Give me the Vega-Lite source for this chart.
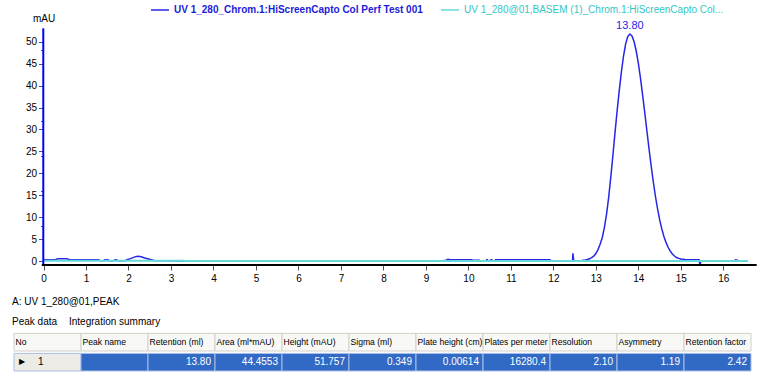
{
  "$schema": "https://vega.github.io/schema/vega-lite/v6.json",
  "width": 760,
  "height": 374,
  "padding": 0,
  "autosize": {"type": "none"},
  "background": "white",
  "config": {
    "view": {"stroke": null},
    "font": "Liberation Sans",
    "axis": {"labelOverlap": false, "labelFlush": false, "grid": false, "domain": false, "tickColor": "#555555", "labelColor": "#000000", "labelFontSize": 10}
  },
  "datasets": {
    "trace": [
      {"series": "UV 1_280_Chrom.1:HiScreenCapto Col Perf Test 001", "x": 0, "y": 0.3},
      {"series": "UV 1_280_Chrom.1:HiScreenCapto Col Perf Test 001", "x": 0.28, "y": 0.3},
      {"series": "UV 1_280_Chrom.1:HiScreenCapto Col Perf Test 001", "x": 0.33, "y": 0.5},
      {"series": "UV 1_280_Chrom.1:HiScreenCapto Col Perf Test 001", "x": 0.55, "y": 0.5},
      {"series": "UV 1_280_Chrom.1:HiScreenCapto Col Perf Test 001", "x": 0.62, "y": 0.3},
      {"series": "UV 1_280_Chrom.1:HiScreenCapto Col Perf Test 001", "x": 1.3, "y": 0.3},
      {"series": "UV 1_280_Chrom.1:HiScreenCapto Col Perf Test 001", "x": 1.33, "y": 0.05},
      {"series": "UV 1_280_Chrom.1:HiScreenCapto Col Perf Test 001", "x": 1.42, "y": 0.05},
      {"series": "UV 1_280_Chrom.1:HiScreenCapto Col Perf Test 001", "x": 1.44, "y": 0.3},
      {"series": "UV 1_280_Chrom.1:HiScreenCapto Col Perf Test 001", "x": 1.52, "y": 0.3},
      {"series": "UV 1_280_Chrom.1:HiScreenCapto Col Perf Test 001", "x": 1.54, "y": 0.05},
      {"series": "UV 1_280_Chrom.1:HiScreenCapto Col Perf Test 001", "x": 1.66, "y": 0.05},
      {"series": "UV 1_280_Chrom.1:HiScreenCapto Col Perf Test 001", "x": 1.68, "y": 0.3},
      {"series": "UV 1_280_Chrom.1:HiScreenCapto Col Perf Test 001", "x": 1.72, "y": 0.3},
      {"series": "UV 1_280_Chrom.1:HiScreenCapto Col Perf Test 001", "x": 1.74, "y": 0.05},
      {"series": "UV 1_280_Chrom.1:HiScreenCapto Col Perf Test 001", "x": 1.92, "y": 0.05},
      {"series": "UV 1_280_Chrom.1:HiScreenCapto Col Perf Test 001", "x": 1.96, "y": 0.3},
      {"series": "UV 1_280_Chrom.1:HiScreenCapto Col Perf Test 001", "x": 2.05, "y": 0.55},
      {"series": "UV 1_280_Chrom.1:HiScreenCapto Col Perf Test 001", "x": 2.15, "y": 0.95},
      {"series": "UV 1_280_Chrom.1:HiScreenCapto Col Perf Test 001", "x": 2.22, "y": 1.1},
      {"series": "UV 1_280_Chrom.1:HiScreenCapto Col Perf Test 001", "x": 2.3, "y": 0.95},
      {"series": "UV 1_280_Chrom.1:HiScreenCapto Col Perf Test 001", "x": 2.4, "y": 0.65},
      {"series": "UV 1_280_Chrom.1:HiScreenCapto Col Perf Test 001", "x": 2.52, "y": 0.35},
      {"series": "UV 1_280_Chrom.1:HiScreenCapto Col Perf Test 001", "x": 2.6, "y": 0.1},
      {"series": "UV 1_280_Chrom.1:HiScreenCapto Col Perf Test 001", "x": 3.3, "y": 0},
      {"series": "UV 1_280_Chrom.1:HiScreenCapto Col Perf Test 001", "x": 9.3, "y": 0},
      {"series": "UV 1_280_Chrom.1:HiScreenCapto Col Perf Test 001", "x": 9.45, "y": 0.1},
      {"series": "UV 1_280_Chrom.1:HiScreenCapto Col Perf Test 001", "x": 9.52, "y": 0.4},
      {"series": "UV 1_280_Chrom.1:HiScreenCapto Col Perf Test 001", "x": 9.57, "y": 0.3},
      {"series": "UV 1_280_Chrom.1:HiScreenCapto Col Perf Test 001", "x": 10.08, "y": 0.3},
      {"series": "UV 1_280_Chrom.1:HiScreenCapto Col Perf Test 001", "x": 10.1, "y": 0.15},
      {"series": "UV 1_280_Chrom.1:HiScreenCapto Col Perf Test 001", "x": 10.26, "y": 0.15},
      {"series": "UV 1_280_Chrom.1:HiScreenCapto Col Perf Test 001", "x": 10.28, "y": 0},
      {"series": "UV 1_280_Chrom.1:HiScreenCapto Col Perf Test 001", "x": 10.42, "y": 0},
      {"series": "UV 1_280_Chrom.1:HiScreenCapto Col Perf Test 001", "x": 10.43, "y": 0.3},
      {"series": "UV 1_280_Chrom.1:HiScreenCapto Col Perf Test 001", "x": 10.45, "y": 0.3},
      {"series": "UV 1_280_Chrom.1:HiScreenCapto Col Perf Test 001", "x": 10.46, "y": 0},
      {"series": "UV 1_280_Chrom.1:HiScreenCapto Col Perf Test 001", "x": 10.52, "y": 0},
      {"series": "UV 1_280_Chrom.1:HiScreenCapto Col Perf Test 001", "x": 10.53, "y": 0.3},
      {"series": "UV 1_280_Chrom.1:HiScreenCapto Col Perf Test 001", "x": 10.55, "y": 0.3},
      {"series": "UV 1_280_Chrom.1:HiScreenCapto Col Perf Test 001", "x": 10.57, "y": 0},
      {"series": "UV 1_280_Chrom.1:HiScreenCapto Col Perf Test 001", "x": 10.62, "y": 0},
      {"series": "UV 1_280_Chrom.1:HiScreenCapto Col Perf Test 001", "x": 10.64, "y": 0.3},
      {"series": "UV 1_280_Chrom.1:HiScreenCapto Col Perf Test 001", "x": 11.92, "y": 0.3},
      {"series": "UV 1_280_Chrom.1:HiScreenCapto Col Perf Test 001", "x": 11.95, "y": 0},
      {"series": "UV 1_280_Chrom.1:HiScreenCapto Col Perf Test 001", "x": 12.45, "y": 0},
      {"series": "UV 1_280_Chrom.1:HiScreenCapto Col Perf Test 001", "x": 12.46, "y": 1.75},
      {"series": "UV 1_280_Chrom.1:HiScreenCapto Col Perf Test 001", "x": 12.48, "y": 0},
      {"series": "UV 1_280_Chrom.1:HiScreenCapto Col Perf Test 001", "x": 12.65, "y": 0},
      {"series": "UV 1_280_Chrom.1:HiScreenCapto Col Perf Test 001", "x": 12.7, "y": 0.2},
      {"series": "UV 1_280_Chrom.1:HiScreenCapto Col Perf Test 001", "x": 12.75, "y": 0.25},
      {"series": "UV 1_280_Chrom.1:HiScreenCapto Col Perf Test 001", "x": 12.8, "y": 0.35},
      {"series": "UV 1_280_Chrom.1:HiScreenCapto Col Perf Test 001", "x": 12.85, "y": 0.5},
      {"series": "UV 1_280_Chrom.1:HiScreenCapto Col Perf Test 001", "x": 12.9, "y": 0.75},
      {"series": "UV 1_280_Chrom.1:HiScreenCapto Col Perf Test 001", "x": 12.95, "y": 1.1},
      {"series": "UV 1_280_Chrom.1:HiScreenCapto Col Perf Test 001", "x": 13.0, "y": 1.7},
      {"series": "UV 1_280_Chrom.1:HiScreenCapto Col Perf Test 001", "x": 13.05, "y": 2.6},
      {"series": "UV 1_280_Chrom.1:HiScreenCapto Col Perf Test 001", "x": 13.1, "y": 3.8},
      {"series": "UV 1_280_Chrom.1:HiScreenCapto Col Perf Test 001", "x": 13.15, "y": 5.3},
      {"series": "UV 1_280_Chrom.1:HiScreenCapto Col Perf Test 001", "x": 13.2, "y": 7.6},
      {"series": "UV 1_280_Chrom.1:HiScreenCapto Col Perf Test 001", "x": 13.25, "y": 10.6},
      {"series": "UV 1_280_Chrom.1:HiScreenCapto Col Perf Test 001", "x": 13.3, "y": 14.4},
      {"series": "UV 1_280_Chrom.1:HiScreenCapto Col Perf Test 001", "x": 13.35, "y": 19.0},
      {"series": "UV 1_280_Chrom.1:HiScreenCapto Col Perf Test 001", "x": 13.4, "y": 24.0},
      {"series": "UV 1_280_Chrom.1:HiScreenCapto Col Perf Test 001", "x": 13.45, "y": 29.2},
      {"series": "UV 1_280_Chrom.1:HiScreenCapto Col Perf Test 001", "x": 13.5, "y": 34.2},
      {"series": "UV 1_280_Chrom.1:HiScreenCapto Col Perf Test 001", "x": 13.55, "y": 38.85},
      {"series": "UV 1_280_Chrom.1:HiScreenCapto Col Perf Test 001", "x": 13.6, "y": 43.07},
      {"series": "UV 1_280_Chrom.1:HiScreenCapto Col Perf Test 001", "x": 13.65, "y": 46.68},
      {"series": "UV 1_280_Chrom.1:HiScreenCapto Col Perf Test 001", "x": 13.7, "y": 49.44},
      {"series": "UV 1_280_Chrom.1:HiScreenCapto Col Perf Test 001", "x": 13.75, "y": 51.17},
      {"series": "UV 1_280_Chrom.1:HiScreenCapto Col Perf Test 001", "x": 13.8, "y": 51.757},
      {"series": "UV 1_280_Chrom.1:HiScreenCapto Col Perf Test 001", "x": 13.85, "y": 51.31},
      {"series": "UV 1_280_Chrom.1:HiScreenCapto Col Perf Test 001", "x": 13.9, "y": 50.0},
      {"series": "UV 1_280_Chrom.1:HiScreenCapto Col Perf Test 001", "x": 13.95, "y": 47.88},
      {"series": "UV 1_280_Chrom.1:HiScreenCapto Col Perf Test 001", "x": 14.0, "y": 45.07},
      {"series": "UV 1_280_Chrom.1:HiScreenCapto Col Perf Test 001", "x": 14.05, "y": 41.69},
      {"series": "UV 1_280_Chrom.1:HiScreenCapto Col Perf Test 001", "x": 14.1, "y": 37.9},
      {"series": "UV 1_280_Chrom.1:HiScreenCapto Col Perf Test 001", "x": 14.15, "y": 33.87},
      {"series": "UV 1_280_Chrom.1:HiScreenCapto Col Perf Test 001", "x": 14.2, "y": 29.75},
      {"series": "UV 1_280_Chrom.1:HiScreenCapto Col Perf Test 001", "x": 14.25, "y": 25.67},
      {"series": "UV 1_280_Chrom.1:HiScreenCapto Col Perf Test 001", "x": 14.3, "y": 21.78},
      {"series": "UV 1_280_Chrom.1:HiScreenCapto Col Perf Test 001", "x": 14.35, "y": 18.16},
      {"series": "UV 1_280_Chrom.1:HiScreenCapto Col Perf Test 001", "x": 14.4, "y": 14.88},
      {"series": "UV 1_280_Chrom.1:HiScreenCapto Col Perf Test 001", "x": 14.45, "y": 11.99},
      {"series": "UV 1_280_Chrom.1:HiScreenCapto Col Perf Test 001", "x": 14.5, "y": 9.49},
      {"series": "UV 1_280_Chrom.1:HiScreenCapto Col Perf Test 001", "x": 14.55, "y": 7.38},
      {"series": "UV 1_280_Chrom.1:HiScreenCapto Col Perf Test 001", "x": 14.6, "y": 5.64},
      {"series": "UV 1_280_Chrom.1:HiScreenCapto Col Perf Test 001", "x": 14.65, "y": 4.24},
      {"series": "UV 1_280_Chrom.1:HiScreenCapto Col Perf Test 001", "x": 14.7, "y": 3.13},
      {"series": "UV 1_280_Chrom.1:HiScreenCapto Col Perf Test 001", "x": 14.75, "y": 2.27},
      {"series": "UV 1_280_Chrom.1:HiScreenCapto Col Perf Test 001", "x": 14.8, "y": 1.62},
      {"series": "UV 1_280_Chrom.1:HiScreenCapto Col Perf Test 001", "x": 14.85, "y": 1.14},
      {"series": "UV 1_280_Chrom.1:HiScreenCapto Col Perf Test 001", "x": 14.9, "y": 0.79},
      {"series": "UV 1_280_Chrom.1:HiScreenCapto Col Perf Test 001", "x": 14.95, "y": 0.6},
      {"series": "UV 1_280_Chrom.1:HiScreenCapto Col Perf Test 001", "x": 15.0, "y": 0.45},
      {"series": "UV 1_280_Chrom.1:HiScreenCapto Col Perf Test 001", "x": 15.1, "y": 0.35},
      {"series": "UV 1_280_Chrom.1:HiScreenCapto Col Perf Test 001", "x": 15.2, "y": 0.3},
      {"series": "UV 1_280_Chrom.1:HiScreenCapto Col Perf Test 001", "x": 15.43, "y": 0.3},
      {"series": "UV 1_280_Chrom.1:HiScreenCapto Col Perf Test 001", "x": 15.45, "y": -1.1},
      {"series": "UV 1_280_Chrom.1:HiScreenCapto Col Perf Test 001", "x": 15.47, "y": 0},
      {"series": "UV 1_280_Chrom.1:HiScreenCapto Col Perf Test 001", "x": 16.26, "y": 0},
      {"series": "UV 1_280_Chrom.1:HiScreenCapto Col Perf Test 001", "x": 16.28, "y": 0.25},
      {"series": "UV 1_280_Chrom.1:HiScreenCapto Col Perf Test 001", "x": 16.3, "y": 0},
      {"series": "UV 1_280_Chrom.1:HiScreenCapto Col Perf Test 001", "x": 16.32, "y": 0.25},
      {"series": "UV 1_280_Chrom.1:HiScreenCapto Col Perf Test 001", "x": 16.34, "y": 0},
      {"series": "UV 1_280_Chrom.1:HiScreenCapto Col Perf Test 001", "x": 16.58, "y": 0},
      {"series": "UV 1_280@01,BASEM (1)_Chrom.1:HiScreenCapto Col...", "x": 0, "y": 0.08},
      {"series": "UV 1_280@01,BASEM (1)_Chrom.1:HiScreenCapto Col...", "x": 3.28, "y": 0.08},
      {"series": "UV 1_280@01,BASEM (1)_Chrom.1:HiScreenCapto Col...", "x": 3.32, "y": 0},
      {"series": "UV 1_280@01,BASEM (1)_Chrom.1:HiScreenCapto Col...", "x": 16.58, "y": 0}
    ],
    "peak": [{"x": 13.8, "y": 51.757, "label": "13.80"}],
    "table": [
      {"row": "tabA", "col": "No", "text": "A: UV 1_280@01,PEAK"},
      {"row": "tabB", "col": "No", "text": "Peak data"},
      {"row": "tabB", "col": "Peak name", "text": "Integration summary"},
      {"row": "header", "col": "No", "text": "No"},
      {"row": "header", "col": "Peak name", "text": "Peak name"},
      {"row": "header", "col": "Retention (ml)", "text": "Retention (ml)"},
      {"row": "header", "col": "Area (ml*mAU)", "text": "Area (ml*mAU)"},
      {"row": "header", "col": "Height (mAU)", "text": "Height (mAU)"},
      {"row": "header", "col": "Sigma (ml)", "text": "Sigma (ml)"},
      {"row": "header", "col": "Plate height (cm)", "text": "Plate height (cm)"},
      {"row": "header", "col": "Plates per meter", "text": "Plates per meter"},
      {"row": "header", "col": "Resolution", "text": "Resolution"},
      {"row": "header", "col": "Asymmetry", "text": "Asymmetry"},
      {"row": "header", "col": "Retention factor", "text": "Retention factor"},
      {"row": "data", "col": "No", "text": "1"},
      {"row": "data", "col": "Peak name", "text": ""},
      {"row": "data", "col": "Retention (ml)", "text": "13.80"},
      {"row": "data", "col": "Area (ml*mAU)", "text": "44.4553"},
      {"row": "data", "col": "Height (mAU)", "text": "51.757"},
      {"row": "data", "col": "Sigma (ml)", "text": "0.349"},
      {"row": "data", "col": "Plate height (cm)", "text": "0.00614"},
      {"row": "data", "col": "Plates per meter", "text": "16280.4"},
      {"row": "data", "col": "Resolution", "text": "2.10"},
      {"row": "data", "col": "Asymmetry", "text": "1.19"},
      {"row": "data", "col": "Retention factor", "text": "2.42"}
    ]
  },
  "layer": [
    {
      "layer": [
        {
          "data": {"name": "trace"},
          "transform": [{"filter": "indexof(datum.series, 'Test 001') >= 0"}],
          "mark": {"type": "line", "strokeWidth": 1.5},
          "encoding": {
            "x": {
              "field": "x", "type": "quantitative",
              "scale": {"domain": [-1.024, 16.863], "nice": false, "zero": false},
              "axis": {
                "orient": "bottom",
                "values": [0,1,2,3,4,5,6,7,8,9,10,11,12,13,14,15,16],
                "offset": -109,
                "title": null,
                "format": "d",
                "tickSize": 5,
                "labelPadding": 3
              }
            },
            "y": {
              "field": "y", "type": "quantitative",
              "scale": {"domain": [-25.76, 59.51], "nice": false, "zero": false},
              "axis": {
                "orient": "left",
                "values": [0,10,20,30,40,50],
                "offset": -43.5,
                "format": "d",
                "tickSize": 5,
                "labelPadding": 2,
                "title": "mAU",
                "titleAngle": 0,
                "titleX": 0,
                "titleY": 18,
                "titleAlign": "center",
                "titleBaseline": "middle",
                "titleFontSize": 10,
                "titleFontWeight": "normal",
                "titleColor": "#000000"
              }
            },
            "color": {
              "field": "series", "type": "nominal",
              "scale": {
                "domain": ["UV 1_280_Chrom.1:HiScreenCapto Col Perf Test 001", "UV 1_280@01,BASEM (1)_Chrom.1:HiScreenCapto Col..."],
                "range": ["#2626e6", "#66d8d8"]
              },
              "legend": {
                "orient": "none",
                "legendX": 150,
                "legendY": 0,
                "direction": "horizontal",
                "columns": 2,
                "title": null,
                "symbolType": "stroke",
                "symbolSize": 324,
                "symbolStrokeWidth": 1.5,
                "labelFontSize": 10,
                "labelLimit": 400,
                "labelOffset": 4,
                "columnPadding": 15,
                "padding": 0,
                "encode": {
                  "labels": {
                    "update": {
                      "fill": {"signal": "indexof(datum.value, 'Test 001') >= 0 ? '#1c1cd8' : '#33c6c6'"},
                      "fontWeight": {"signal": "indexof(datum.value, 'Test 001') >= 0 ? 'bold' : 'normal'"}
                    }
                  }
                }
              }
            }
          }
        },
        {
          "data": {"name": "trace"},
          "transform": [{"filter": "indexof(datum.series, 'BASEM') >= 0"}],
          "mark": {"type": "line", "strokeWidth": 2},
          "encoding": {
            "x": {"field": "x", "type": "quantitative"},
            "y": {"field": "y", "type": "quantitative"},
            "color": {"field": "series", "type": "nominal"}
          }
        },
        {
          "data": {"name": "peak"},
          "mark": {"type": "text", "baseline": "bottom", "dy": -3, "fontSize": 11, "color": "#2626e6"},
          "encoding": {
            "x": {"field": "x", "type": "quantitative"},
            "y": {"field": "y", "type": "quantitative"},
            "text": {"field": "label"}
          }
        }
      ]
    },
    {
      "data": {"values": [{}]},
      "layer": [
        {
          "mark": {"type": "rule", "color": "#0000ff", "strokeWidth": 2},
          "encoding": {
            "x": {
              "datum": -0.005, "type": "quantitative",
              "scale": {"domain": [-1.024, 16.863], "nice": false, "zero": false},
              "axis": {
                "orient": "bottom",
                "values": [0,0.25,0.5,0.75,1,1.25,1.5,1.75,2,2.25,2.5,2.75,3,3.25,3.5,3.75,4,4.25,4.5,4.75,5,5.25,5.5,5.75,6,6.25,6.5,6.75,7,7.25,7.5,7.75,8,8.25,8.5,8.75,9,9.25,9.5,9.75,10,10.25,10.5,10.75,11,11.25,11.5,11.75,12,12.25,12.5,12.75,13,13.25,13.5,13.75,14,14.25,14.5,14.75,15,15.25,15.5,15.75,16,16.25,16.5],
                "offset": -109,
                "labels": false,
                "tickSize": 3,
                "title": null
              }
            },
            "y": {
              "datum": -0.91, "type": "quantitative",
              "scale": {"domain": [-25.76, 59.51], "nice": false, "zero": false},
              "axis": {
                "orient": "left",
                "values": [0,1,2,3,4,5,6,7,8,9,10,11,12,13,14,15,16,17,18,19,20,21,22,23,24,25,26,27,28,29,30,31,32,33,34,35,36,37,38,39,40,41,42,43,44,45,46,47,48,49,50,51,52],
                "offset": -43.5,
                "labels": false,
                "tickSize": 3,
                "title": null
              }
            },
            "y2": {"datum": 53.05}
          }
        },
        {
          "mark": {"type": "rule", "color": "#000000", "strokeWidth": 2},
          "encoding": {
            "x": {"datum": -0.04, "type": "quantitative"},
            "x2": {"datum": 16.785},
            "y": {"datum": -0.91, "type": "quantitative"}
          }
        }
      ]
    },
    {
      "data": {"values": [{}]},
      "mark": {"type": "text", "opacity": 0},
      "encoding": {
        "y": {
          "datum": 0, "type": "quantitative",
          "scale": {"domain": [-25.76, 59.51], "nice": false, "zero": false},
          "axis": {
            "orient": "left",
            "values": [5,15,25,35,45],
            "offset": -43.5,
            "format": "d",
            "tickSize": 5,
            "labelPadding": 2,
            "title": null
          }
        },
        "text": {"value": ""}
      }
    },
    {
      "data": {"name": "table"},
      "layer": [
        {
          "transform": [{"filter": "datum.row === 'header'"}],
          "mark": {"type": "rect", "fill": "#f8f8f6", "stroke": "#d2d0c8", "strokeWidth": 1},
          "encoding": {
            "x": {"field": "col", "type": "nominal", "axis": null, "sort": null,
              "scale": {"domain": ["No","Peak name","Retention (ml)","Area (ml*mAU)","Height (mAU)","Sigma (ml)","Plate height (cm)","Plates per meter","Resolution","Asymmetry","Retention factor"], "paddingInner": 0, "paddingOuter": 0.1716, "align": 0.6087}},
            "y": {"field": "row", "type": "nominal", "axis": null, "sort": null,
              "scale": {"domain": ["pad1","pad2","pad3","pad4","pad5","pad6","pad7","pad8","pad9","pad10","pad11","pad12","pad13","pad14","tabA","tabB","header","data"], "paddingInner": 0.12, "paddingOuter": 0.41, "align": 0.817}}
          }
        },
        {
          "transform": [{"filter": "datum.row === 'data'"}],
          "mark": {"type": "rect", "stroke": "#a9bfe6", "strokeWidth": 1},
          "encoding": {
            "x": {"field": "col", "type": "nominal", "axis": null, "sort": null},
            "y": {"field": "row", "type": "nominal", "axis": null, "sort": null},
            "color": {"condition": {"test": "datum.col === 'No'", "value": "#ecebe5"}, "value": "#316ac5"}
          }
        },
        {
          "transform": [{"filter": "datum.row === 'header'"}],
          "mark": {"type": "text", "align": "left", "baseline": "middle", "dx": 1.5, "fontSize": 8.6, "color": "#000000"},
          "encoding": {
            "x": {"field": "col", "type": "nominal", "axis": null, "sort": null, "bandPosition": 0},
            "y": {"field": "row", "type": "nominal", "axis": null, "sort": null},
            "text": {"field": "text"}
          }
        },
        {
          "transform": [{"filter": "datum.row === 'data' && datum.col !== 'No'"}],
          "mark": {"type": "text", "align": "right", "baseline": "middle", "dx": -4, "fontSize": 10, "color": "#ffffff"},
          "encoding": {
            "x": {"field": "col", "type": "nominal", "axis": null, "sort": null, "bandPosition": 1},
            "y": {"field": "row", "type": "nominal", "axis": null, "sort": null},
            "text": {"field": "text"}
          }
        },
        {
          "transform": [{"filter": "datum.row === 'data' && datum.col === 'No'"}],
          "mark": {"type": "text", "align": "left", "baseline": "middle", "dx": 5, "fontSize": 8, "color": "#000000"},
          "encoding": {
            "x": {"field": "col", "type": "nominal", "axis": null, "sort": null, "bandPosition": 0},
            "y": {"field": "row", "type": "nominal", "axis": null, "sort": null},
            "text": {"value": "▶"}
          }
        },
        {
          "transform": [{"filter": "datum.row === 'data' && datum.col === 'No'"}],
          "mark": {"type": "text", "align": "left", "baseline": "middle", "dx": 24, "fontSize": 10, "color": "#000000"},
          "encoding": {
            "x": {"field": "col", "type": "nominal", "axis": null, "sort": null, "bandPosition": 0},
            "y": {"field": "row", "type": "nominal", "axis": null, "sort": null},
            "text": {"field": "text"}
          }
        },
        {
          "transform": [{"filter": "datum.row === 'tabA' || (datum.row === 'tabB' && datum.col === 'No')"}],
          "mark": {"type": "text", "align": "left", "baseline": "middle", "dx": -2, "fontSize": 10, "color": "#000000"},
          "encoding": {
            "x": {"field": "col", "type": "nominal", "axis": null, "sort": null, "bandPosition": 0},
            "y": {"field": "row", "type": "nominal", "axis": null, "sort": null},
            "text": {"field": "text"}
          }
        },
        {
          "transform": [{"filter": "datum.row === 'tabB' && datum.col === 'Peak name'"}],
          "mark": {"type": "text", "align": "left", "baseline": "middle", "dx": -12, "fontSize": 10, "color": "#000000"},
          "encoding": {
            "x": {"field": "col", "type": "nominal", "axis": null, "sort": null, "bandPosition": 0},
            "y": {"field": "row", "type": "nominal", "axis": null, "sort": null},
            "text": {"field": "text"}
          }
        }
      ]
    }
  ],
  "resolve": {"scale": {"x": "independent", "y": "independent"}}
}
